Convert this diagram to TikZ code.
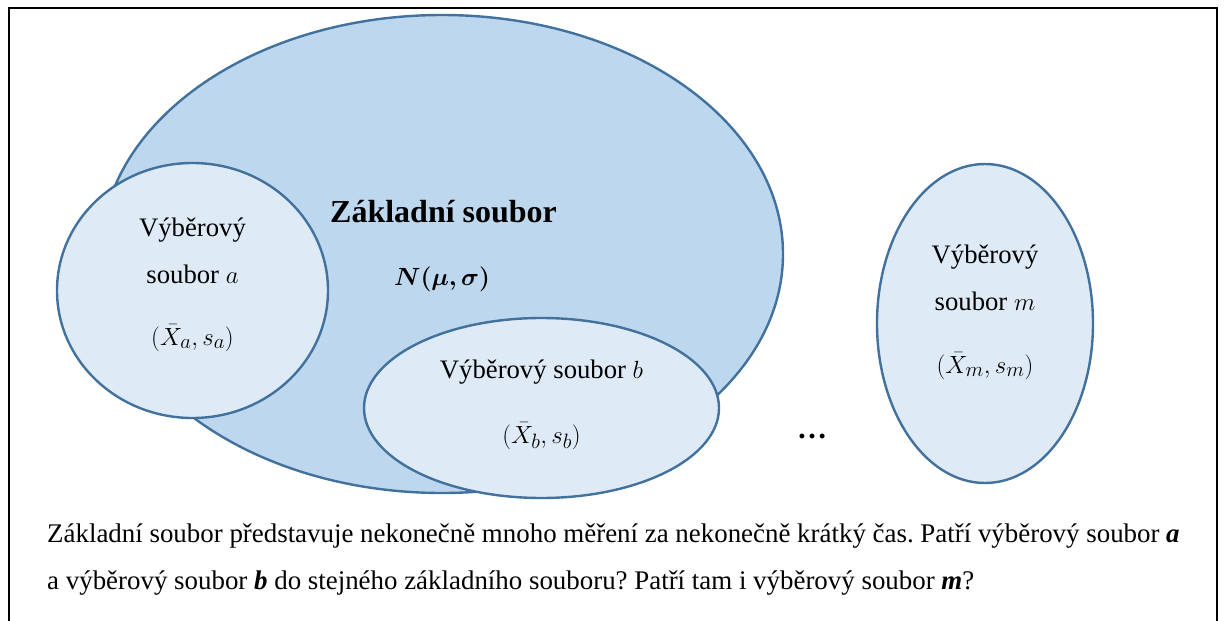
\documentclass[tikz,border=0pt]{standalone}
\usepackage{fontspec}
\setmainfont{Liberation Serif}
\usepackage{bm}
\usetikzlibrary{shapes.geometric}
\definecolor{popfill}{HTML}{BDD7EE}
\definecolor{smpfill}{HTML}{DEEBF7}
\definecolor{setedge}{HTML}{41719C}
\frenchspacing
\begin{document}
\begin{tikzpicture}[x=1pt,y=-1pt,
  setshape/.style={ellipse, draw=setedge, line width=2.4pt, inner sep=0pt, outer sep=0pt},
  lbl/.style={anchor=base, inner sep=0pt, font=\fontsize{26.7}{32}\selectfont},
  stat/.style={lbl, font=\fontsize{28.5}{34}\selectfont},
  body/.style={anchor=base west, inner sep=0pt, font=\fontsize{26.9}{32}\selectfont}]
\useasboundingbox (0,0) rectangle (1226,621);
% outer frame
\draw[line width=2pt] (9,8) rectangle (1217,640);

% population
\node[setshape, fill=popfill, minimum width=682, minimum height=478] (pop) at (442,254) {};
% samples
\node[setshape, fill=smpfill, minimum width=271, minimum height=255] (sa) at (192.5,290.5) {};
\node[setshape, fill=smpfill, minimum width=355, minimum height=180] (sb) at (541.5,408) {};
\node[setshape, fill=smpfill, minimum width=216, minimum height=319] (sm) at (985,323.5) {};

% population labels
\node[lbl, anchor=base west, font=\fontsize{32}{38}\selectfont\bfseries] (poptitle) at (330,222) {Základní soubor};
\node[lbl, font=\fontsize{31}{36}\selectfont] (popparam) at (442,285) {$\bm{N(\mu,\sigma)}$};

% sample a
\node[lbl] (sa1) at (192.5,236) {Výběrový};
\node[lbl] (sa2) at (192.5,283) {soubor $a$};
\node[stat] (sa3) at (192.5,345) {$(\bar{X}_a, s_a)$};
% sample b
\node[lbl] (sb1) at (541.5,378) {Výběrový soubor $b$};
\node[stat] (sb2) at (541.5,443) {$(\bar{X}_b, s_b)$};
% sample m
\node[lbl] (sm1) at (985,263) {Výběrový};
\node[lbl] (sm2) at (985,310) {soubor $m$};
\node[stat] (sm3) at (985,373) {$(\bar{X}_m, s_m)$};

% ellipsis between samples
\node[lbl, font=\fontsize{30}{36}\selectfont\bfseries] (dots) at (812,438) {\dots};

% caption
\node[body] (cap1) at (47,542) {Základní soubor představuje nekonečně mnoho měření za nekonečně krátký čas. Patří výběrový soubor \textbf{\textit{a}}};
\node[body] (cap2) at (47,589) {a výběrový soubor \textbf{\textit{b}} do stejného základního souboru? Patří tam i výběrový soubor \textbf{\textit{m}}?};
\end{tikzpicture}
\end{document}
